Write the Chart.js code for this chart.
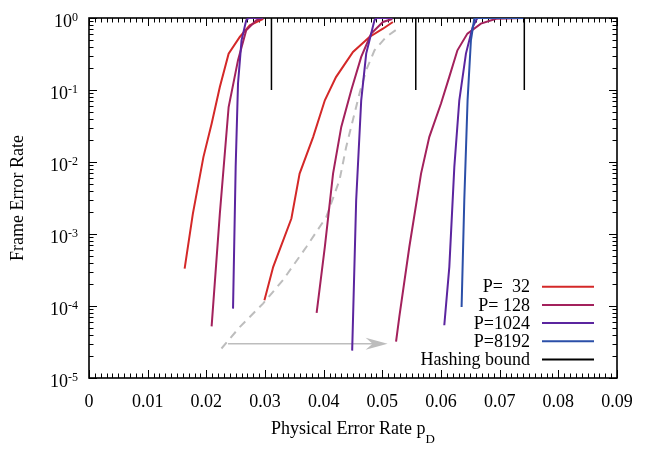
<!DOCTYPE html>
<html>
<head>
<meta charset="utf-8">
<script src="https://cdn.jsdelivr.net/npm/chart.js@4.4.1/dist/chart.umd.min.js"></script>
<style>
html, body { margin: 0; padding: 0; background: #fff; }
#wrap { width: 649px; height: 453px; }
</style>
</head>
<body>
<div id="wrap"><canvas id="ferChart" width="649" height="453"></canvas></div>
<script>
// Frame error rate vs physical error rate
// left family
const pdA32 = [0.0163, 0.0177, 0.0195, 0.0209, 0.0223, 0.0238, 0.0257, 0.0274, 0.0297];
const ferA32 = [3.3e-4, 1.9e-3, 1.17e-2, 3.4e-2, 0.11, 0.32, 0.545, 0.79, 0.975];
const pdA128 = [0.0209, 0.0223, 0.0238, 0.0254, 0.0268, 0.0285, 0.0296];
const ferA128 = [5.2e-5, 1.9e-3, 5.8e-2, 0.26, 0.675, 0.93, 1.0];
const pdA1024 = [0.02455, 0.0250, 0.0254, 0.0260, 0.0268, 0.0272, 0.0296];
const ferA1024 = [9.2e-5, 8.5e-3, 0.123, 0.49, 0.93, 1.0, 1.0];

// middle family
const pdB32 = [0.0299, 0.0314, 0.0345, 0.0359, 0.0382, 0.0402, 0.0421, 0.0450, 0.0478, 0.0501, 0.0518];
const ferB32 = [1.2e-4, 3.5e-4, 1.64e-3, 6.9e-3, 2.22e-2, 7.2e-2, 0.151, 0.337, 0.545, 0.71, 0.88];
const pdB128 = [0.0388, 0.0402, 0.0416, 0.0430, 0.0447, 0.0464, 0.0481, 0.0501, 0.0517];
const ferB128 = [8e-5, 6.6e-4, 6.9e-3, 3.07e-2, 9.9e-2, 0.288, 0.607, 0.88, 0.97];
const pdB1024 = [0.04486, 0.04554, 0.0464, 0.04725, 0.0481, 0.04866, 0.0490, 0.0517];
const ferB1024 = [2.4e-5, 2.95e-3, 7.2e-2, 0.32, 0.607, 0.93, 1.0, 1.0];

// right family
const pdC128 = [0.05234, 0.0529, 0.0546, 0.0566, 0.0580, 0.0600, 0.0614, 0.0628, 0.0645, 0.0668, 0.0694, 0.0740];
const ferC128 = [3.2e-5, 7.1e-5, 6.6e-4, 6.9e-3, 2.22e-2, 6.5e-2, 0.151, 0.356, 0.607, 0.836, 0.977, 1.0];
const pdC1024 = [0.06056, 0.06142, 0.06227, 0.06312, 0.06425, 0.06539, 0.0662, 0.0740];
const ferC1024 = [5.4e-5, 3.5e-4, 8.5e-3, 7.2e-2, 0.32, 0.75, 1.0, 1.0];
const pdC8192 = [0.06351, 0.06397, 0.06453, 0.0651, 0.06567, 0.0660, 0.0740];
const ferC8192 = [9.7e-5, 2.95e-3, 7.2e-2, 0.49, 0.977, 1.0, 1.0];

// hashing bound positions, drawn from 0.1 up to 1
const hashPd = [0.0311, 0.0557, 0.0742];
const hashFer = [0.1, 1.0];

// grey dashed trend and arrow
const pdTrend = [0.02258, 0.02569, 0.02966, 0.03306, 0.03704, 0.04044, 0.0427, 0.04384, 0.04497, 0.0461, 0.04724, 0.04866, 0.05064, 0.05234];
const ferTrend = [2.57e-5, 5.1e-5, 1.08e-4, 2.29e-4, 6.6e-4, 1.72e-3, 5.6e-3, 1.62e-2, 3.8e-2, 8.9e-2, 0.188, 0.356, 0.545, 0.685];
const arrowPd = [0.0237, 0.0509];
const arrowFer = 3.0e-5;

// axis ticks
const xTickVals = [0, 0.01, 0.02, 0.03, 0.04, 0.05, 0.06, 0.07, 0.08, 0.09];
const xTickLabels = ['0', '0.01', '0.02', '0.03', '0.04', '0.05', '0.06', '0.07', '0.08', '0.09'];
const yExponents = [0, -1, -2, -3, -4, -5];

const legendLabels = ['P=  32', 'P= 128', 'P=1024', 'P=8192', 'Hashing bound'];
const legendColors = ['#d42828', '#a3215c', '#5b259f', '#2b4fa8', '#000000'];

const SERIF = '"Liberation Serif", "Times New Roman", serif';

const pts = (xs, ys) => xs.map((x, i) => ({ x: x, y: ys[i] }));

function curve(xs, ys, color) {
    return {
        data: pts(xs, ys),
        borderColor: color,
        borderWidth: 2,
        pointRadius: 0,
        tension: 0,
        fill: false
    };
}

const hashData = [];
hashPd.forEach(v => {
    hashData.push({ x: v, y: hashFer[0] }, { x: v, y: hashFer[1] }, { x: v, y: null });
});

const datasets = [
    curve(pdC8192, ferC8192, legendColors[3]),
    curve(pdA1024, ferA1024, legendColors[2]),
    curve(pdB1024, ferB1024, legendColors[2]),
    curve(pdC1024, ferC1024, legendColors[2]),
    curve(pdA128, ferA128, legendColors[1]),
    curve(pdB128, ferB128, legendColors[1]),
    curve(pdC128, ferC128, legendColors[1]),
    curve(pdA32, ferA32, legendColors[0]),
    curve(pdB32, ferB32, legendColors[0]),
    { data: hashData, borderColor: '#000', borderWidth: 1.5, pointRadius: 0, spanGaps: false },
    { data: pts(pdTrend, ferTrend), borderColor: '#bdbdbd', borderWidth: 2, borderDash: [8, 6], pointRadius: 0 },
    { data: [{ x: arrowPd[0], y: arrowFer }, { x: arrowPd[1] - 0.0012, y: arrowFer }], borderColor: '#bdbdbd', borderWidth: 1.5, pointRadius: 0 }
];

const decor = {
    id: 'decor',
    beforeDatasetsDraw(chart) {
        const { ctx, chartArea: a, scales: { x, y } } = chart;
        ctx.save();
        ctx.strokeStyle = '#000';
        ctx.lineWidth = 1;
        ctx.beginPath();
        // x ticks, inward on bottom and top
        for (let i = 0; i <= 90; i++) {
            const px = Math.round(x.getPixelForValue(i / 1000)) + 0.5;
            const len = i % 10 === 0 ? 8 : 4.5;
            ctx.moveTo(px, a.bottom); ctx.lineTo(px, a.bottom - len);
            ctx.moveTo(px, a.top); ctx.lineTo(px, a.top + len);
        }
        // y ticks, log decades with minor 2..9
        yExponents.forEach(e => {
            const py = Math.round(y.getPixelForValue(Math.pow(10, e))) + 0.5;
            ctx.moveTo(a.left, py); ctx.lineTo(a.left + 8, py);
            ctx.moveTo(a.right, py); ctx.lineTo(a.right - 8, py);
            if (e > -5) {
                for (let k = 2; k <= 9; k++) {
                    const pm = Math.round(y.getPixelForValue(k * Math.pow(10, e - 1))) + 0.5;
                    ctx.moveTo(a.left, pm); ctx.lineTo(a.left + 4.5, pm);
                    ctx.moveTo(a.right, pm); ctx.lineTo(a.right - 4.5, pm);
                }
            }
        });
        ctx.stroke();
        ctx.lineWidth = 1.6;
        ctx.strokeRect(a.left, a.top, a.right - a.left, a.bottom - a.top);
        ctx.restore();
    },
    afterDatasetsDraw(chart) {
        const { ctx, scales: { x, y } } = chart;
        // arrow head at the end of the grey arrow
        const tx = x.getPixelForValue(arrowPd[1]);
        const ty = y.getPixelForValue(arrowFer);
        ctx.save();
        ctx.fillStyle = '#bdbdbd';
        ctx.beginPath();
        ctx.moveTo(tx, ty);
        ctx.lineTo(tx - 22, ty - 6);
        ctx.lineTo(tx - 15, ty);
        ctx.lineTo(tx - 22, ty + 6);
        ctx.closePath();
        ctx.fill();
        ctx.restore();
    },
    afterDraw(chart) {
        const { ctx, chartArea: a, scales: { x, y } } = chart;
        ctx.save();
        ctx.fillStyle = '#000';

        // x tick labels
        ctx.font = '18px ' + SERIF;
        ctx.textAlign = 'center';
        ctx.textBaseline = 'alphabetic';
        xTickVals.forEach((v, i) => {
            ctx.fillText(xTickLabels[i], x.getPixelForValue(v), 407);
        });

        // y tick labels 10^e
        ctx.textAlign = 'left';
        yExponents.forEach(e => {
            const py = y.getPixelForValue(Math.pow(10, e));
            const sup = String(e);
            ctx.font = '18px ' + SERIF;
            const wBase = ctx.measureText('10').width;
            ctx.font = '12px ' + SERIF;
            const wSup = ctx.measureText(sup).width;
            const x0 = 78 - wBase - wSup;
            ctx.font = '18px ' + SERIF;
            ctx.fillText('10', x0, py + 8.5);
            ctx.font = '12px ' + SERIF;
            ctx.fillText(sup, x0 + wBase, py + 3);
        });

        // x axis title with subscript
        const main = 'Physical Error Rate p';
        ctx.font = '18px ' + SERIF;
        const wMain = ctx.measureText(main).width;
        ctx.font = '13px ' + SERIF;
        const wSub = ctx.measureText('D').width;
        const cx = (a.left + a.right) / 2;
        const sx = cx - (wMain + wSub) / 2;
        ctx.font = '18px ' + SERIF;
        ctx.fillText(main, sx, 434);
        ctx.font = '13px ' + SERIF;
        ctx.fillText('D', sx + wMain, 443);

        // y axis title
        ctx.save();
        ctx.translate(18.5, (a.top + a.bottom) / 2);
        ctx.rotate(-Math.PI / 2);
        ctx.font = '18px ' + SERIF;
        ctx.textAlign = 'center';
        ctx.textBaseline = 'middle';
        ctx.fillText('Frame Error Rate', 0, 0);
        ctx.restore();

        // legend, bottom right
        ctx.font = '18px ' + SERIF;
        ctx.textAlign = 'right';
        ctx.textBaseline = 'middle';
        legendLabels.forEach((lab, i) => {
            const ry = 286.7 + i * 18.2;
            ctx.fillStyle = '#000';
            ctx.fillText(lab, 530, ry + 1);
            ctx.strokeStyle = legendColors[i];
            ctx.lineWidth = 2;
            ctx.beginPath();
            ctx.moveTo(542, ry);
            ctx.lineTo(594, ry);
            ctx.stroke();
        });
        ctx.restore();
    }
};

const ferChart = new Chart(document.getElementById('ferChart'), {
    type: 'line',
    data: { datasets: datasets },
    options: {
        responsive: false,
        animation: false,
        layout: { padding: { left: 89, right: 32, top: 18, bottom: 75 } },
        plugins: { legend: { display: false }, tooltip: { enabled: false } },
        scales: {
            x: { type: 'linear', min: 0, max: 0.09, display: false },
            y: { type: 'logarithmic', min: 1e-5, max: 1, display: false }
        }
    },
    plugins: [decor]
});
</script>
</body>
</html>
